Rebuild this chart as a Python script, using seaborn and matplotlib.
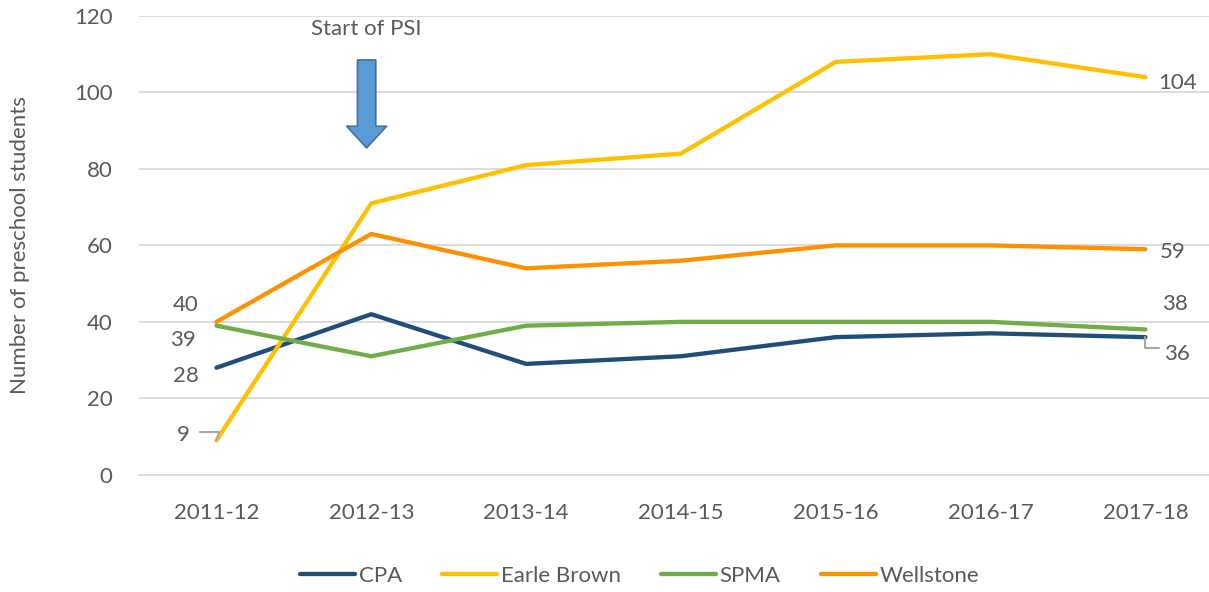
import matplotlib
matplotlib.use("Agg")
import matplotlib.pyplot as plt
import seaborn as sns
import pandas as pd

years = ["2011-12", "2012-13", "2013-14", "2014-15", "2015-16", "2016-17", "2017-18"]
cpa = [28, 42, 29, 31, 36, 37, 36]
earle_brown = [9, 71, 81, 84, 108, 110, 104]
spma = [39, 31, 39, 40, 40, 40, 38]
wellstone = [40, 63, 54, 56, 60, 60, 59]

schools = ["CPA", "Earle Brown", "SPMA", "Wellstone"]
colors = ["#1F4E79", "#FFC000", "#70AD47", "#FF9100"]

df = pd.DataFrame({"year": years * 4,
                   "school": [s for s in schools for _ in years],
                   "students": cpa + earle_brown + spma + wellstone})

sns.set_theme(style="white")
plt.rcParams["font.family"] = ["Lato", "DejaVu Sans"]
txt = "#595959"

fig = plt.figure(figsize=(12.09, 5.92), dpi=100)
ax = fig.add_axes([0.115, 0.198, 0.89, 0.775])

sns.lineplot(data=df, x="year", y="students", hue="school", palette=colors,
             linewidth=3.1, ax=ax, sort=False, solid_capstyle="round")

ax.set_ylim(0, 120)
ax.set_yticks(range(0, 121, 20))
ax.set_xlim(-0.5, 6.45)
ax.grid(axis="y", color="#D9D9D9", linewidth=1.3)
ax.set_axisbelow(True)
for s in ["top", "right", "left"]:
    ax.spines[s].set_visible(False)
ax.spines["bottom"].set_color("#D9D9D9")
ax.spines["bottom"].set_linewidth(1.3)
ax.tick_params(axis="both", length=0, labelsize=16, colors=txt)
ax.tick_params(axis="x", pad=20)
ax.tick_params(axis="y", pad=19)
ax.set_xlabel("")
ax.set_ylabel("Number of preschool students", fontsize=16, color=txt, labelpad=32)

# data labels at the ends
lab = dict(fontsize=16, color=txt, va="center")
ax.annotate(str(wellstone[0]), (0, wellstone[0]), xytext=(-22, 12), textcoords="offset points", ha="center", **lab)
ax.annotate(str(spma[0]), (0, spma[0]), xytext=(-24, -10), textcoords="offset points", ha="center", **lab)
ax.annotate(str(cpa[0]), (0, cpa[0]), xytext=(-22, -6), textcoords="offset points", ha="center", **lab)
ax.annotate(str(earle_brown[0]), (0, earle_brown[0]), xytext=(-24, 4), textcoords="offset points", ha="center", **lab)
ax.annotate("", (0, earle_brown[0]), xytext=(-12, 6), textcoords="offset points",
            arrowprops=dict(arrowstyle="-", color="#A6A6A6", lw=1.5, shrinkA=0, shrinkB=0,
                            connectionstyle="angle,angleA=0,angleB=70,rad=0"))
ax.annotate(str(earle_brown[-1]), (6, earle_brown[-1]), xytext=(23, -4), textcoords="offset points", ha="center", **lab)
ax.annotate(str(wellstone[-1]), (6, wellstone[-1]), xytext=(20, -2), textcoords="offset points", ha="center", **lab)
ax.annotate(str(spma[-1]), (6, spma[-1]), xytext=(21, 18), textcoords="offset points", ha="center", **lab)
ax.annotate(str(cpa[-1]), (6, cpa[-1]), xytext=(23, -12), textcoords="offset points", ha="center", **lab)
ax.annotate("", (6, cpa[-1]), xytext=(10, -8), textcoords="offset points",
            arrowprops=dict(arrowstyle="-", color="#A6A6A6", lw=1.5, shrinkA=0, shrinkB=0,
                            connectionstyle="angle,angleA=0,angleB=90,rad=0"))

# Start of PSI marker
ax.annotate("", xy=(0.97, 85.5), xytext=(0.97, 108.5),
            arrowprops=dict(arrowstyle="simple,head_width=2.4,head_length=1.3,tail_width=1.1",
                            fc="#5B9BD5", ec="#41719C", lw=1.2, shrinkA=0, shrinkB=0))
ax.text(0.97, 116.5, "Start of PSI", ha="center", va="center", fontsize=16, color=txt)

ax.legend(loc="upper center", bbox_to_anchor=(0.465, -0.155), ncol=4, frameon=False,
          fontsize=16, labelcolor=txt, handlelength=2.5, handletextpad=0.15,
          columnspacing=1.8, title=None)

fig.savefig("out.png", dpi=100)
